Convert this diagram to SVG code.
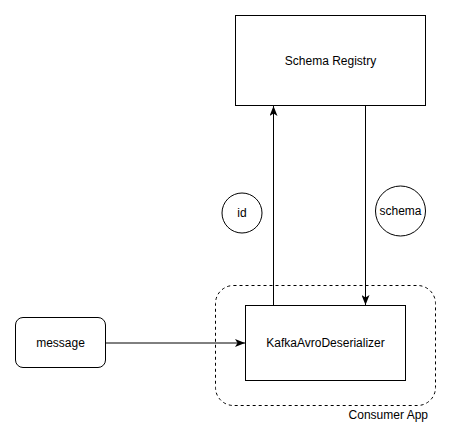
<svg xmlns="http://www.w3.org/2000/svg" width="452" height="442" viewBox="0 0 452 442">
<style>
text{font-family:"Liberation Sans",Arial,Helvetica,sans-serif;font-size:12px;fill:#000}
.box{fill:#fff;stroke:#000;stroke-width:1}
.edge{fill:none;stroke:#000;stroke-width:1}
</style>
<defs>
<marker id="arr" viewBox="0 0 10 8" refX="10" refY="4" markerWidth="10" markerHeight="8" markerUnits="userSpaceOnUse" orient="auto">
<path d="M0,0 L10,4 L0,8 L2.5,4 Z" fill="#000"/>
</marker>
</defs>
<rect width="452" height="442" fill="#fff"/>
<g id="consumer-app">
<rect x="215.5" y="285.5" width="220" height="120" rx="18" ry="18" fill="none" stroke="#000" stroke-dasharray="3 3"/>
<text x="428" y="419" text-anchor="end">Consumer App</text>
</g>
<g id="schema-registry">
<rect class="box" x="235.5" y="15.5" width="190" height="90"/>
<text x="330.5" y="65" text-anchor="middle">Schema Registry</text>
</g>
<g id="kafka-avro-deserializer">
<rect class="box" x="245.5" y="305.5" width="160" height="75"/>
<text x="325.5" y="347" text-anchor="middle">KafkaAvroDeserializer</text>
</g>
<g id="message">
<rect class="box" x="15.5" y="317.5" width="90" height="50" rx="7.5" ry="7.5"/>
<text x="60.5" y="347" text-anchor="middle">message</text>
</g>
<g id="id">
<circle class="box" cx="242" cy="213" r="20"/>
<text x="242" y="217" text-anchor="middle">id</text>
</g>
<g id="schema">
<circle class="box" cx="400.5" cy="211" r="25"/>
<text x="400.5" y="215" text-anchor="middle">schema</text>
</g>
<g id="connectors">
<path class="edge" d="M273.5,305 L273.5,106" marker-end="url(#arr)"/>
<path class="edge" d="M365.5,106 L365.5,305" marker-end="url(#arr)"/>
<path class="edge" d="M106,343 L245,343" marker-end="url(#arr)"/>
</g>
</svg>
